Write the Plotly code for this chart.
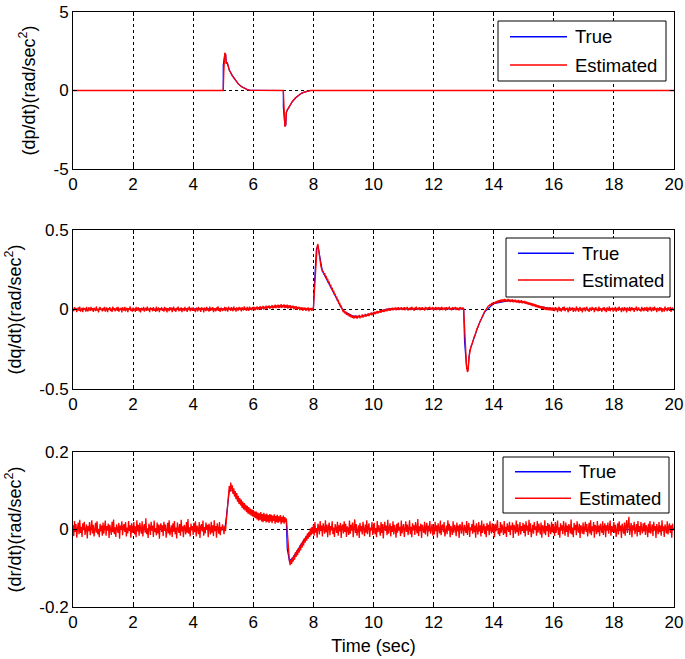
import numpy as np
import plotly.graph_objects as go
from plotly.subplots import make_subplots

# ---------------- data ----------------
# Panel 1: dp/dt  (breakpoints)
p_true_t = [0, 5.0, 5.0, 5.05, 5.08, 5.1, 5.13, 5.2, 5.3, 5.4, 5.5, 5.6, 5.7, 5.8, 5.9,
            7.0, 7.0, 7.05, 7.08, 7.1, 7.13, 7.2, 7.3, 7.4, 7.5, 7.6, 7.7, 7.8, 7.9, 20]
p_true_v = [0, 0, 1.6, 2.3, 2.3, 1.7, 1.8, 1.3, 0.95, 0.65, 0.42, 0.25, 0.13, 0.06, 0.01,
            0, -1.05, -2.2, -2.2, -1.4, -1.25, -1.0, -0.7, -0.48, -0.32, -0.18, -0.1, -0.04, 0, 0]
p_est_t = [0, 5.0, 5.02, 5.05, 5.08, 5.1, 5.13, 5.2, 5.3, 5.4, 5.5, 5.6, 5.7, 5.8, 5.9,
           7.0, 7.02, 7.05, 7.08, 7.1, 7.13, 7.2, 7.3, 7.4, 7.5, 7.6, 7.7, 7.8, 7.9, 20]
p_est_v = [0, 0, 1.2, 2.4, 2.3, 1.7, 1.8, 1.3, 0.95, 0.65, 0.42, 0.25, 0.13, 0.06, 0.01,
           0, -0.9, -2.3, -2.2, -1.4, -1.25, -1.0, -0.7, -0.48, -0.32, -0.18, -0.1, -0.04, 0, 0]

# Panel 2: dq/dt
q_true_t = [0, 6.0, 6.8, 7.3, 7.8, 8.0, 8.03, 8.1, 8.15, 8.2, 8.3, 8.4, 8.5, 8.6, 8.7, 8.8,
            8.9, 9.0, 9.3, 9.6, 10.0, 10.5, 13.0, 13.03, 13.1, 13.15, 13.2, 13.3, 13.5,
            13.7, 14.0, 14.5, 15.0, 15.5, 16.0, 20]
q_true_v = [0, 0.005, 0.02, 0.015, 0, 0.005, 0.15, 0.38, 0.40, 0.35, 0.24, 0.205, 0.17, 0.133,
            0.095, 0.058, 0.02, -0.01, -0.04, -0.045, -0.022, 0.004, 0.004, -0.2, -0.37, -0.37,
            -0.26, -0.2, -0.095, -0.015, 0.037, 0.055, 0.045, 0.02, 0.003, 0]

# estimated dq/dt, one row per second (sampled every 0.025 s)
q_est_rows = [
    [0.006,-0.011,0.015,-0.004,0.009,-0.016,0.002,0.013,-0.008,0.018,-0.013,0.005,0.010,-0.017,0.012,-0.002,0.007,-0.014,0.016,-0.006,-0.012,0.014,0.001,-0.009,0.017,-0.005,0.008,-0.015,0.011,0.003,-0.010,0.019,-0.007,0.004,-0.018,0.009,0.014,-0.003,0.006,-0.012],
    [0.010,-0.006,0.016,-0.013,0.003,0.012,-0.017,0.007,-0.001,0.015,-0.010,0.005,-0.015,0.018,-0.004,0.009,-0.011,0.002,0.013,-0.008,0.017,-0.014,0.006,-0.003,0.011,-0.018,0.014,0.001,-0.007,0.016,-0.012,0.004,0.010,-0.016,0.008,-0.002,0.019,-0.009,0.003,-0.013],
    [0.012,-0.004,0.007,-0.015,0.017,-0.008,0.002,0.014,-0.012,0.009,-0.018,0.011,0.004,-0.006,0.016,-0.013,0.001,0.010,-0.009,0.018,-0.005,0.006,-0.016,0.013,-0.002,0.008,-0.011,0.015,-0.007,0.003,-0.014,0.019,-0.010,0.005,0.012,-0.017,0.007,-0.003,0.014,-0.008],
    [0.004,-0.013,0.016,-0.006,0.010,-0.018,0.008,0.002,-0.011,0.015,-0.004,0.012,-0.016,0.006,0.017,-0.009,0.003,-0.014,0.011,-0.001,0.018,-0.012,0.005,-0.007,0.013,-0.017,0.009,0.001,-0.010,0.016,-0.005,0.007,-0.015,0.012,-0.003,0.019,-0.011,0.004,0.010,-0.008],
    [0.013,-0.007,0.003,-0.016,0.011,0.006,-0.012,0.017,-0.004,0.008,-0.015,0.014,-0.001,0.009,-0.018,0.012,0.002,-0.010,0.016,-0.006,0.005,-0.013,0.018,-0.008,0.010,-0.003,0.015,-0.017,0.007,0.001,-0.011,0.013,-0.005,0.019,-0.009,0.004,-0.014,0.011,0.006,-0.010],
    [0.008,-0.005,0.016,-0.010,0.012,0.003,-0.013,0.018,-0.002,0.010,-0.008,0.015,0.001,-0.011,0.019,-0.004,0.009,-0.014,0.013,0.006,-0.007,0.017,-0.001,0.011,-0.012,0.014,0.004,-0.006,0.020,-0.003,0.010,-0.009,0.016,0.002,-0.008,0.018,-0.002,0.012,-0.006,0.015],
    [0.004,0.017,-0.006,0.013,0.001,0.019,-0.003,0.014,0.006,0.021,-0.002,0.016,0.008,0.022,0.000,0.018,0.007,0.024,0.003,0.019,0.010,0.026,0.004,0.020,0.012,0.028,0.006,0.023,0.011,0.030,0.008,0.025,0.014,0.031,0.009,0.027,0.013,0.033,0.010,0.028],
    [0.015,0.032,0.009,0.027,0.012,0.030,0.006,0.025,0.011,0.028,0.004,0.022,0.009,0.024,0.001,0.019,0.006,0.021,-0.002,0.016,0.004,0.017,-0.005,0.013,0.002,0.014,-0.008,0.011,-0.001,0.012,-0.009,0.009,-0.004,0.013,-0.011,0.007,-0.003,0.010,-0.008,0.006],
    [0.005,0.085,0.172,0.288,0.355,0.398,0.412,0.385,0.352,0.305,0.272,0.255,0.238,0.243,0.221,0.228,0.206,0.212,0.188,0.193,0.166,0.175,0.148,0.156,0.131,0.137,0.112,0.118,0.093,0.098,0.076,0.081,0.055,0.062,0.036,0.041,0.018,0.022,0.001,-0.006],
    [-0.018,-0.007,-0.026,-0.014,-0.033,-0.021,-0.038,-0.027,-0.044,-0.031,-0.049,-0.036,-0.053,-0.039,-0.057,-0.041,-0.052,-0.038,-0.058,-0.043,-0.050,-0.034,-0.055,-0.040,-0.047,-0.031,-0.051,-0.036,-0.043,-0.028,-0.046,-0.032,-0.039,-0.024,-0.042,-0.027,-0.034,-0.019,-0.037,-0.022],
    [-0.028,-0.014,-0.031,-0.016,-0.024,-0.009,-0.026,-0.011,-0.019,-0.004,-0.021,-0.006,-0.014,0.001,-0.016,-0.002,-0.010,0.005,-0.012,0.004,-0.006,0.009,-0.008,0.007,-0.003,0.012,-0.005,0.010,-0.001,0.013,-0.006,0.011,0.000,0.014,-0.004,0.009,0.002,0.015,-0.003,0.010],
    [0.001,0.014,-0.005,0.011,0.003,0.016,-0.007,0.009,0.002,0.013,-0.004,0.017,0.000,0.010,-0.008,0.012,0.005,0.018,-0.003,0.008,0.001,0.015,-0.006,0.011,0.004,0.014,-0.002,0.009,-0.007,0.016,0.002,0.012,-0.004,0.013,0.006,0.017,-0.001,0.010,0.003,0.015],
    [-0.005,0.011,0.002,0.016,-0.003,0.009,0.005,0.014,-0.006,0.012,0.001,0.017,-0.004,0.010,0.003,0.013,-0.007,0.015,0.000,0.011,0.004,0.018,-0.002,0.008,-0.005,0.014,0.002,0.010,0.006,0.016,-0.003,0.012,0.001,0.009,-0.006,0.015,0.003,0.011,-0.002,0.013],
    [0.004,-0.105,-0.212,-0.305,-0.368,-0.392,-0.384,-0.302,-0.268,-0.251,-0.228,-0.222,-0.201,-0.194,-0.172,-0.163,-0.142,-0.135,-0.117,-0.112,-0.093,-0.086,-0.072,-0.064,-0.051,-0.043,-0.031,-0.024,-0.012,-0.006,0.004,0.010,0.016,0.023,0.024,0.031,0.028,0.037,0.032,0.041],
    [0.034,0.046,0.038,0.051,0.041,0.055,0.043,0.058,0.046,0.061,0.047,0.063,0.049,0.064,0.050,0.066,0.051,0.062,0.048,0.066,0.052,0.063,0.047,0.061,0.050,0.064,0.045,0.059,0.048,0.062,0.043,0.057,0.046,0.060,0.041,0.055,0.044,0.058,0.039,0.052],
    [0.041,0.054,0.037,0.050,0.034,0.048,0.031,0.044,0.029,0.042,0.025,0.039,0.022,0.036,0.020,0.033,0.016,0.030,0.013,0.027,0.011,0.024,0.008,0.021,0.005,0.019,0.002,0.017,0.000,0.015,-0.003,0.013,-0.004,0.012,-0.006,0.014,-0.005,0.011,-0.007,0.010],
    [0.006,-0.010,0.015,-0.003,0.011,-0.016,0.004,0.017,-0.008,0.009,-0.013,0.002,0.014,-0.006,0.018,-0.011,0.007,-0.002,0.012,-0.017,0.005,0.016,-0.009,0.010,-0.004,0.013,-0.015,0.008,0.001,-0.012,0.019,-0.006,0.011,-0.014,0.003,0.015,-0.008,0.006,-0.018,0.012],
    [-0.004,0.013,-0.011,0.008,0.017,-0.007,0.002,-0.015,0.012,0.005,-0.009,0.016,-0.002,0.010,-0.017,0.007,0.014,-0.005,0.003,-0.012,0.018,-0.008,0.009,0.001,-0.014,0.011,-0.003,0.015,-0.010,0.006,-0.016,0.013,0.004,-0.007,0.019,-0.011,0.008,-0.001,0.012,-0.013],
    [0.009,-0.006,0.016,-0.014,0.004,0.011,-0.009,0.018,-0.003,0.007,-0.016,0.013,0.001,-0.011,0.015,-0.005,0.010,-0.018,0.012,0.003,-0.008,0.017,-0.012,0.006,0.014,-0.004,0.008,-0.015,0.011,-0.001,0.019,-0.010,0.005,0.013,-0.007,0.002,-0.013,0.016,-0.006,0.009],
    [-0.011,0.014,0.003,-0.008,0.017,-0.014,0.006,0.010,-0.005,0.016,-0.012,0.001,0.013,-0.009,0.018,-0.003,0.008,-0.016,0.011,0.004,-0.010,0.015,-0.006,0.012,-0.017,0.007,0.002,-0.013,0.019,-0.004,0.009,-0.011,0.014,0.001,-0.008,0.016,-0.015,0.006,0.011,-0.007],
]
q_est_end = 0.005

# Panel 3: dr/dt
r_true_t = [0, 5.05, 5.1, 5.15, 5.2, 5.3, 5.5, 5.8, 6.2, 6.6, 7.0, 7.1, 7.13, 7.2, 7.3,
            7.5, 7.7, 7.9, 8.1, 20]
r_true_v = [0, 0, 0.03, 0.07, 0.1, 0.1, 0.075, 0.05, 0.035, 0.03, 0.025, 0.02, -0.05,
            -0.08, -0.075, -0.05, -0.025, -0.008, 0, 0]

r_est_rows = [
    [0.011,-0.017,0.022,-0.006,0.014,-0.021,0.003,0.018,-0.012,0.025,-0.009,0.007,-0.019,0.016,-0.002,0.020,-0.014,0.005,0.013,-0.023,0.009,-0.004,0.019,-0.015,0.001,0.024,-0.010,0.012,-0.018,0.006,0.017,-0.008,0.021,-0.013,0.002,-0.020,0.015,-0.005,0.010,-0.016],
    [0.018,-0.011,0.004,0.023,-0.016,0.009,-0.003,0.015,-0.022,0.012,0.001,-0.014,0.020,-0.007,0.026,-0.012,0.006,-0.019,0.013,0.003,-0.009,0.017,-0.024,0.010,-0.001,0.021,-0.015,0.008,0.014,-0.006,0.019,-0.018,0.005,-0.010,0.022,-0.004,0.011,-0.021,0.016,-0.008],
    [0.002,0.019,-0.013,0.008,-0.020,0.024,-0.005,0.012,-0.016,0.017,0.000,-0.011,0.021,-0.018,0.006,0.014,-0.008,0.029,-0.012,0.003,-0.022,0.015,0.007,-0.014,0.020,-0.003,0.010,-0.019,0.023,-0.007,0.004,-0.015,0.018,-0.010,0.013,-0.024,0.009,0.016,-0.006,0.011],
    [-0.017,0.020,-0.004,0.013,-0.021,0.007,0.017,-0.010,0.024,-0.015,0.002,0.011,-0.019,0.016,-0.006,0.022,-0.012,0.005,-0.023,0.018,0.001,-0.009,0.014,-0.016,0.025,-0.005,0.008,-0.020,0.012,0.004,-0.013,0.019,-0.008,0.027,-0.011,0.006,-0.018,0.015,-0.002,0.009],
    [-0.014,0.017,-0.007,0.021,-0.018,0.010,0.003,-0.012,0.019,-0.022,0.008,0.014,-0.005,0.023,-0.016,0.006,-0.010,0.018,-0.001,0.012,-0.020,0.015,0.004,-0.013,0.020,-0.008,0.011,-0.017,0.024,-0.004,0.009,-0.021,0.016,0.002,-0.011,0.019,-0.015,0.007,-0.003,0.013],
    [0.006,-0.012,0.009,-0.004,0.022,0.041,0.074,0.088,0.112,0.097,0.121,0.103,0.114,0.092,0.106,0.085,0.099,0.078,0.094,0.072,0.087,0.066,0.081,0.062,0.077,0.056,0.072,0.052,0.068,0.049,0.064,0.045,0.061,0.041,0.058,0.039,0.054,0.036,0.052,0.034],
    [0.050,0.031,0.047,0.029,0.046,0.026,0.044,0.023,0.042,0.025,0.045,0.021,0.040,0.019,0.043,0.022,0.039,0.018,0.041,0.020,0.037,0.017,0.040,0.021,0.038,0.016,0.036,0.022,0.039,0.015,0.035,0.019,0.038,0.017,0.034,0.020,0.037,0.014,0.033,0.018],
    [0.036,0.015,0.032,0.019,0.028,0.003,-0.032,-0.061,-0.079,-0.092,-0.078,-0.089,-0.072,-0.083,-0.066,-0.078,-0.059,-0.071,-0.054,-0.066,-0.048,-0.060,-0.041,-0.054,-0.035,-0.047,-0.029,-0.041,-0.022,-0.034,-0.016,-0.029,-0.010,-0.024,-0.006,-0.019,0.003,-0.015,0.006,-0.011],
    [0.012,-0.016,0.019,-0.008,0.004,-0.021,0.015,0.007,-0.013,0.022,-0.004,0.010,-0.018,0.016,0.001,-0.011,0.024,-0.007,0.013,-0.020,0.006,0.018,-0.015,0.009,-0.002,0.021,-0.012,0.005,-0.019,0.014,0.003,-0.009,0.020,-0.016,0.011,-0.005,0.017,-0.022,0.008,0.013],
    [-0.010,0.021,-0.006,0.015,-0.019,0.008,0.002,-0.014,0.023,-0.011,0.012,-0.003,0.018,-0.020,0.006,0.026,-0.009,0.014,-0.016,0.004,0.011,-0.022,0.017,-0.005,0.009,-0.013,0.020,0.001,-0.017,0.013,-0.008,0.024,-0.012,0.007,0.016,-0.019,0.005,-0.002,0.019,-0.014],
    [0.008,0.017,-0.012,0.004,-0.020,0.022,-0.007,0.011,0.001,-0.016,0.019,-0.009,0.014,-0.023,0.006,0.020,-0.004,0.010,-0.015,0.025,-0.011,0.003,0.016,-0.018,0.009,-0.006,0.021,-0.013,0.012,0.002,-0.021,0.015,-0.008,0.018,-0.003,0.007,-0.017,0.023,-0.010,0.005],
    [0.014,-0.019,0.009,0.021,-0.006,0.013,-0.015,0.003,0.024,-0.012,0.007,-0.020,0.016,-0.002,0.011,-0.014,0.019,0.005,-0.010,0.027,-0.017,0.008,-0.004,0.015,-0.022,0.012,0.001,-0.009,0.020,-0.013,0.006,0.017,-0.018,0.010,-0.005,0.022,-0.011,0.004,0.014,-0.016],
    [0.007,-0.013,0.020,-0.004,0.011,-0.021,0.016,0.002,-0.010,0.023,-0.015,0.008,0.013,-0.007,0.019,-0.018,0.005,0.010,-0.012,0.024,-0.003,0.015,-0.020,0.009,0.001,-0.014,0.021,-0.008,0.012,0.004,-0.017,0.018,-0.005,0.010,-0.022,0.014,0.006,-0.011,0.020,-0.002],
    [-0.016,0.012,0.003,-0.009,0.022,-0.014,0.008,0.017,-0.019,0.006,-0.002,0.014,-0.011,0.025,-0.007,0.010,-0.021,0.016,0.001,-0.013,0.019,-0.005,0.011,-0.018,0.023,-0.009,0.004,0.015,-0.012,0.008,-0.020,0.017,-0.003,0.012,-0.015,0.021,0.000,-0.010,0.016,-0.006],
    [0.011,-0.020,0.015,-0.005,0.009,0.024,-0.012,0.004,-0.017,0.019,-0.008,0.013,0.002,-0.014,0.022,-0.010,0.007,-0.019,0.016,0.003,-0.006,0.020,-0.015,0.010,-0.001,0.018,-0.022,0.012,0.005,-0.011,0.023,-0.007,0.014,-0.016,0.006,0.019,-0.013,0.009,-0.004,0.017],
    [-0.009,0.013,-0.018,0.021,-0.003,0.010,-0.014,0.025,-0.006,0.016,-0.020,0.007,0.012,-0.011,0.019,-0.001,0.008,-0.016,0.022,-0.008,0.015,0.003,-0.013,0.018,-0.021,0.011,0.005,-0.010,0.024,-0.015,0.009,-0.004,0.017,-0.019,0.013,0.001,-0.012,0.020,-0.007,0.014],
    [0.004,-0.017,0.019,-0.009,0.012,0.023,-0.014,0.006,-0.021,0.016,-0.003,0.011,-0.012,0.022,0.002,-0.016,0.018,-0.006,0.010,-0.019,0.014,0.007,-0.010,0.026,-0.013,0.005,-0.020,0.017,-0.002,0.012,-0.015,0.021,0.001,-0.008,0.015,-0.022,0.011,0.004,-0.011,0.018],
    [-0.013,0.009,0.020,-0.006,0.014,-0.018,0.003,0.017,-0.010,0.024,-0.015,0.008,-0.004,0.019,-0.021,0.012,0.006,-0.012,0.022,-0.007,0.010,-0.017,0.015,0.001,-0.009,0.021,-0.014,0.007,0.016,-0.020,0.011,-0.003,0.018,-0.011,0.005,0.023,-0.016,0.009,-0.006,0.013],
    [0.019,-0.008,0.012,-0.019,0.006,0.016,-0.013,0.021,-0.004,0.010,-0.022,0.015,0.002,-0.011,0.018,-0.016,0.008,0.024,-0.009,0.013,0.033,-0.014,0.005,0.017,-0.020,0.011,-0.002,0.020,-0.012,0.007,0.014,-0.018,0.022,-0.006,0.009,-0.015,0.019,0.001,-0.010,0.016],
    [-0.005,0.018,-0.014,0.011,0.004,-0.020,0.015,-0.008,0.022,-0.011,0.006,0.013,-0.017,0.020,-0.003,0.009,-0.022,0.014,0.002,-0.012,0.019,-0.007,0.010,-0.016,0.024,-0.004,0.008,-0.019,0.013,0.003,-0.010,0.021,-0.013,0.006,0.016,-0.009,0.011,-0.021,0.015,-0.002],
]
r_est_end = 0.004

x_ticks = [0, 2, 4, 6, 8, 10, 12, 14, 16, 18, 20]
y_titles = ["(dp/dt)(rad/sec<sup>2</sup>)", "(dq/dt)(rad/sec<sup>2</sup>)", "(dr/dt)(rad/sec<sup>2</sup>)"]
y_ranges = [[-5, 5], [-0.5, 0.5], [-0.2, 0.2]]
y_ticks = [[-5, 0, 5], [-0.5, 0, 0.5], [-0.2, 0, 0.2]]
y_ticktext = [["-5", "0", "5"], ["-0.5", "0", "0.5"], ["-0.2", "0", "0.2"]]
legend_labels = ["True", "Estimated"]


def rows_to_series(rows, end_value):
    """Place each one-second row of samples evenly inside its second."""
    t, v = [], []
    for s, row in enumerate(rows):
        n = len(row)
        t.extend(s + k / n for k in range(n))
        v.extend(row)
    t.append(float(len(rows)))
    v.append(end_value)
    return t, v


q_est_t, q_est_v = rows_to_series(q_est_rows, q_est_end)
r_est_t, r_est_v = rows_to_series(r_est_rows, r_est_end)

# ---------------- style / layout ----------------
TRUE_C = "#0000FF"
EST_C = "#FF0000"
FONT = "Liberation Sans, Arial, sans-serif"
W, H = 685, 659
ML, MR, MT, MB = 73, 11, 12, 52
PW = W - ML - MR
PH = H - MT - MB
panel_px = [(12, 169), (230, 389), (452, 607)]
domains = [[(H - MB - b) / PH, (H - MB - t) / PH] for (t, b) in panel_px]
legend_px = [
    (498, 21, 666, 81, 510, 567, 573, 36.7, 65.0),
    (506, 238, 670, 297, 518, 574, 580, 253.3, 280.0),
    (503, 457, 669, 513, 515, 571, 577, 471.7, 498.3),
]

fig = make_subplots(rows=3, cols=1, vertical_spacing=0.1)

series = [
    (p_true_t, p_true_v, p_est_t, p_est_v),
    (q_true_t, q_true_v, q_est_t, q_est_v),
    (r_true_t, r_true_v, r_est_t, r_est_v),
]
for i, (tt, tv, et, ev) in enumerate(series):
    row = i + 1
    fig.add_trace(go.Scatter(x=tt, y=tv, mode="lines", name="True",
                             line=dict(color=TRUE_C, width=1.2), showlegend=False),
                  row=row, col=1)
    fig.add_trace(go.Scatter(x=et, y=ev, mode="lines", name="Estimated",
                             line=dict(color=EST_C, width=1.3), showlegend=False),
                  row=row, col=1)

for i in range(3):
    row = i + 1
    fig.update_xaxes(row=row, col=1, range=[0, 20], tickvals=x_ticks,
                     showgrid=True, gridcolor="black", griddash="dot", gridwidth=1,
                     zeroline=False, showline=True, linecolor="black", linewidth=1,
                     mirror="ticks", ticks="inside", ticklen=4, tickcolor="black",
                     tickfont=dict(size=17, color="black", family=FONT))
    fig.update_yaxes(row=row, col=1, range=y_ranges[i], tickvals=y_ticks[i],
                     ticktext=y_ticktext[i], domain=domains[i],
                     showgrid=True, gridcolor="black", griddash="dot", gridwidth=1,
                     zeroline=False, showline=True, linecolor="black", linewidth=1,
                     mirror="ticks", ticks="inside", ticklen=4, tickcolor="black",
                     tickfont=dict(size=17, color="black", family=FONT),
                     title=dict(text=y_titles[i], standoff=13,
                                font=dict(size=18, color="black", family=FONT)))
fig.update_xaxes(row=3, col=1, title=dict(text="Time (sec)", standoff=7,
                                          font=dict(size=18, color="black", family=FONT)))

# legends drawn in each subplot's domain coordinates
shapes = []
annotations = []
colors = [TRUE_C, EST_C]
for i, (L, T, R, B, lx0, lx1, tx, yt, ye) in enumerate(legend_px):
    pt, pb = panel_px[i]
    xr = "x domain" if i == 0 else f"x{i + 1} domain"
    yr = "y domain" if i == 0 else f"y{i + 1} domain"
    fx = lambda px: (px - ML) / PW
    fy = lambda py, pt=pt, pb=pb: (pb - py) / (pb - pt)
    shapes.append(dict(type="rect", xref=xr, yref=yr, x0=fx(L), x1=fx(R), y0=fy(B), y1=fy(T),
                       line=dict(color="black", width=1), fillcolor="white", layer="above"))
    for k, yy in enumerate([yt, ye]):
        shapes.append(dict(type="line", xref=xr, yref=yr, x0=fx(lx0), x1=fx(lx1),
                           y0=fy(yy), y1=fy(yy), line=dict(color=colors[k], width=1.5),
                           layer="above"))
        annotations.append(dict(xref=xr, yref=yr, x=fx(tx), y=fy(yy), text=legend_labels[k],
                                showarrow=False, xanchor="left", yanchor="middle",
                                font=dict(size=18.5, color="black", family=FONT)))

fig.update_layout(
    width=W, height=H,
    margin=dict(l=ML, r=MR, t=MT, b=MB, autoexpand=False),
    paper_bgcolor="white", plot_bgcolor="white",
    font=dict(family=FONT, size=17, color="black"),
    showlegend=False,
    shapes=shapes, annotations=annotations,
)

fig.write_html("out.html", config={"displayModeBar": False},
               post_script="document.body.style.margin='0px';")
